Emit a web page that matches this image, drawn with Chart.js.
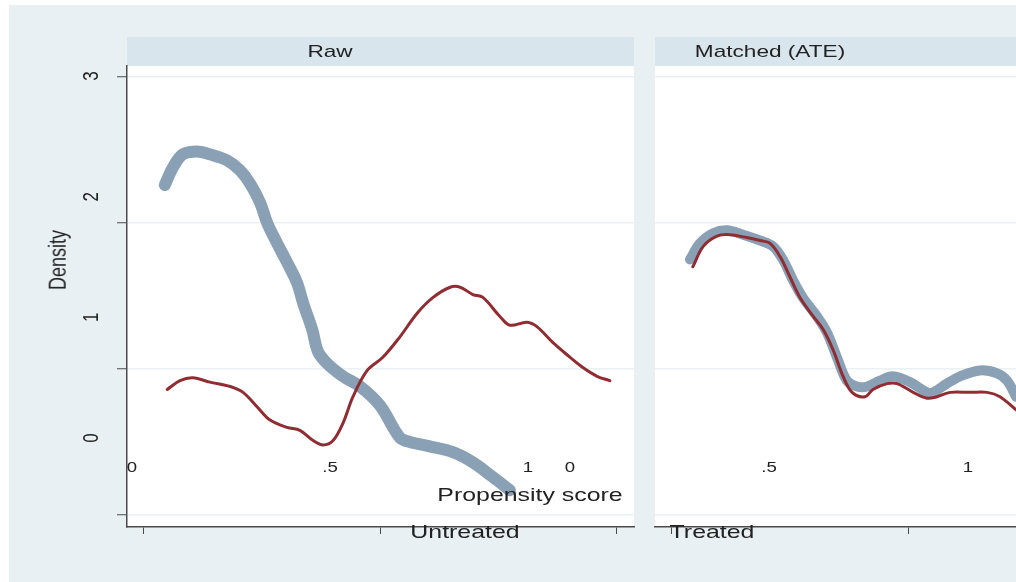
<!DOCTYPE html>
<html>
<head>
<meta charset="utf-8">
<title>Propensity score overlap</title>
<script src="https://cdn.jsdelivr.net/npm/chart.js@4.4.1/dist/chart.umd.min.js"></script>
<style>
  html, body { margin: 0; padding: 0; width: 1016px; height: 582px; overflow: hidden; background: #ffffff;
    font-family: "Liberation Sans", Arial, sans-serif; }
  #bg { position: absolute; left: 9px; top: 5px; right: 0; bottom: 0; background: #e8f0f3; }
  .strip { position: absolute; top: 37px; height: 29px; background: #d9e5ec; }
  .layer { position: absolute; left: 0; top: 0; width: 1016px; height: 582px; }
  .txt { position: absolute; white-space: nowrap; color: #222; line-height: 1; transform-origin: center center; }
</style>
</head>
<body>
<div id="bg"></div>
<div class="strip" style="left:127px;width:507px"></div>
<div class="strip" style="left:655px;width:361px"></div>
<div class="layer"><canvas id="rawChart"></canvas></div>
<div class="layer"><canvas id="matchedChart"></canvas></div>

<div class="txt" style="left:330px;top:51px;font-size:17px;transform:translate(-50%,-50%) scaleX(1.33)">Raw</div>
<div class="txt" style="left:770px;top:51px;font-size:17px;transform:translate(-50%,-50%) scaleX(1.33)">Matched (ATE)</div>
<div class="txt" style="left:58px;top:260px;font-size:18px;transform:translate(-50%,-50%) scaleX(1.33) rotate(-90deg)">Density</div>
<div class="txt" style="left:530px;top:494px;font-size:19px;transform:translate(-50%,-50%) scaleX(1.31)">Propensity score</div>
<div class="txt" style="left:465px;top:531px;font-size:19px;transform:translate(-50%,-50%) scaleX(1.31)">Untreated</div>
<div class="txt" style="left:712px;top:531px;font-size:19px;transform:translate(-50%,-50%) scaleX(1.31)">Treated</div>

<script>
// Kernel density of the propensity score, before matching (Raw)
const rawUntreatedX = [0.046,0.063,0.084,0.114,0.141,0.177,0.205,0.226,0.247,0.262,0.283,0.304,0.325,0.338,0.357,0.369,0.388,0.422,0.458,0.500,0.542,0.563,0.605,0.654,0.696,0.738,0.774];
const rawUntreatedY = [2.26,2.38,2.47,2.49,2.47,2.43,2.36,2.27,2.14,2.00,1.86,1.73,1.59,1.45,1.27,1.12,1.04,0.95,0.88,0.75,0.53,0.50,0.47,0.43,0.36,0.26,0.17];
const rawTreatedX = [0.051,0.078,0.105,0.141,0.184,0.211,0.241,0.268,0.304,0.331,0.359,0.380,0.401,0.422,0.443,0.473,0.506,0.542,0.578,0.612,0.648,0.669,0.696,0.717,0.753,0.774,0.810,0.831,0.865,0.901,0.928,0.958,0.985];
const rawTreatedY = [0.86,0.92,0.94,0.91,0.88,0.84,0.74,0.65,0.60,0.58,0.51,0.48,0.51,0.63,0.81,0.99,1.08,1.22,1.38,1.49,1.56,1.56,1.51,1.49,1.36,1.30,1.32,1.29,1.18,1.08,1.01,0.95,0.92];

// Kernel density after matching (ATE weights)
const matchedUntreatedX = [0.040,0.061,0.089,0.118,0.152,0.188,0.215,0.236,0.257,0.278,0.308,0.329,0.350,0.371,0.392,0.414,0.441,0.468,0.504,0.540,0.553,0.582,0.610,0.652,0.688,0.709,0.728];
const matchedUntreatedY = [1.75,1.86,1.93,1.95,1.92,1.88,1.84,1.75,1.61,1.49,1.36,1.25,1.08,0.92,0.88,0.88,0.92,0.95,0.91,0.84,0.84,0.90,0.95,0.99,0.97,0.92,0.81];
const matchedTreatedX = [0.046,0.068,0.097,0.124,0.160,0.188,0.209,0.230,0.251,0.272,0.300,0.321,0.342,0.363,0.382,0.409,0.426,0.456,0.477,0.511,0.540,0.561,0.589,0.631,0.667,0.694,0.728];
const matchedTreatedY = [1.70,1.84,1.91,1.92,1.90,1.88,1.86,1.77,1.63,1.49,1.36,1.27,1.13,0.95,0.84,0.81,0.86,0.90,0.90,0.84,0.80,0.81,0.84,0.84,0.84,0.81,0.72];

// Axis tick labels
const yTickValues = [0, 1, 2, 3];
const yTickLabels = ['0', '1', '2', '3'];
const xTickValues = [0, 0.5, 1];
const xTickLabels = ['0', '.5', '1'];

const GREY = '#8aa0b5';
const MAROON = '#8f2d33';
const AXIS = '#4a4a4a';
const GRID = '#e9f1f4';

const toPoints = (xs, ys) => xs.map((x, i) => ({ x: x, y: ys[i] }));

// White plot region behind the curves
const plotBackground = {
  id: 'plotBackground',
  beforeDraw(chart) {
    const a = chart.chartArea, ctx = chart.ctx;
    ctx.save();
    ctx.fillStyle = '#ffffff';
    ctx.fillRect(a.left, a.top, a.right - a.left, a.bottom - a.top);
    ctx.restore();
  }
};

// Stata-style tick labels, placed by the label scales
const tickLabels = {
  id: 'tickLabels',
  afterDraw(chart, args, opts) {
    const ctx = chart.ctx, a = chart.chartArea;
    ctx.save();
    ctx.fillStyle = '#222';
    ctx.textAlign = 'center';
    ctx.textBaseline = 'middle';
    if (opts.showX) {
      const sx = chart.scales.xLab;
      ctx.font = '14px "Liberation Sans", Arial, sans-serif';
      xTickValues.forEach((v, i) => {
        ctx.save();
        ctx.translate(sx.getPixelForValue(v), a.bottom - 59);
        ctx.scale(1.33, 1);
        ctx.fillText(xTickLabels[i], 0, 0);
        ctx.restore();
      });
    }
    if (opts.showY) {
      const sy = chart.scales.yLab;
      ctx.font = '17px "Liberation Sans", Arial, sans-serif';
      yTickValues.forEach((v, i) => {
        ctx.save();
        ctx.translate(a.left - 35, sy.getPixelForValue(v));
        ctx.scale(1.33, 1);
        ctx.rotate(-Math.PI / 2);
        ctx.fillText(yTickLabels[i], 0, 0);
        ctx.restore();
      });
    }
    ctx.restore();
  }
};

function makePanel(canvasId, untreated, treated, cfg) {
  return new Chart(document.getElementById(canvasId), {
    type: 'line',
    data: {
      datasets: [
        // listed first so it is drawn on top of the wide grey band
        { label: 'Treated', data: treated, borderColor: MAROON, borderWidth: 3,
          pointRadius: 0, tension: 0.35, borderCapStyle: 'round', borderJoinStyle: 'round', fill: false,
          xAxisID: 'x', yAxisID: 'y' },
        { label: 'Untreated', data: untreated, borderColor: GREY, borderWidth: cfg.greyWidth,
          pointRadius: 0, tension: 0.35, borderCapStyle: 'round', borderJoinStyle: 'round', fill: false,
          xAxisID: 'x', yAxisID: 'y' }
      ]
    },
    options: {
      responsive: true,
      maintainAspectRatio: false,
      animation: false,
      events: [],
      layout: { padding: cfg.padding },
      plugins: {
        legend: { display: false },
        title: { display: false },
        tooltip: { enabled: false },
        tickLabels: { showX: true, showY: cfg.showY }
      },
      scales: {
        x: {
          type: 'linear', min: -0.0338, max: cfg.xMax,
          ticks: { display: false, stepSize: 0.5, includeBounds: false },
          grid: { drawOnChartArea: false, drawTicks: true, tickLength: 7, tickColor: AXIS, tickWidth: 1 },
          border: { display: true, color: AXIS, width: 1.5 }
        },
        y: {
          type: 'linear', min: -0.082, max: 3.075,
          ticks: { display: false, stepSize: 1, includeBounds: false },
          grid: { color: GRID, lineWidth: 1.5, drawTicks: cfg.showY, tickLength: 10, tickColor: AXIS, tickWidth: 1 },
          border: { display: cfg.showY, color: AXIS, width: 1.5 }
        },
        xLab: { type: 'linear', display: false, position: 'bottom', min: cfg.xLabMin, max: cfg.xLabMax },
        yLab: { type: 'linear', display: false, position: 'left', min: -0.7376, max: 3.083 }
      }
    },
    plugins: [plotBackground, tickLabels]
  });
}

makePanel('rawChart',
  toPoints(rawUntreatedX, rawUntreatedY),
  toPoints(rawTreatedX, rawTreatedY),
  { greyWidth: 12, showY: true, xMax: 1.0359, xLabMin: -0.0126, xLabMax: 1.2677,
    padding: { left: 117, right: 382, top: 66, bottom: 48 } });

makePanel('matchedChart',
  toPoints(matchedUntreatedX, matchedUntreatedY),
  toPoints(matchedTreatedX, matchedTreatedY),
  { greyWidth: 10, showY: false, xMax: 0.7278, xLabMin: 0.2136, xLabMax: 1.1206,
    padding: { left: 655, right: 0, top: 66, bottom: 48 } });
</script>
</body>
</html>
